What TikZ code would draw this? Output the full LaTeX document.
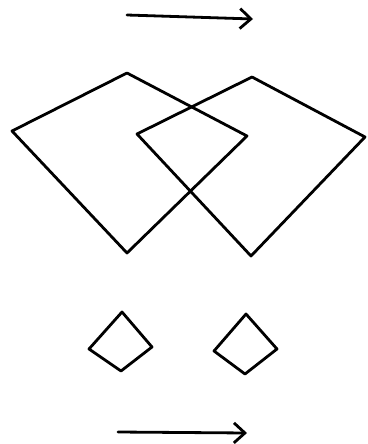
\documentclass[tikz,border=0pt]{standalone}
\usetikzlibrary{arrows.meta}
\begin{document}
\begin{tikzpicture}[x=1pt,y=-1pt,
  ink/.style={line width=2.8pt,line join=round,line cap=round,black},
  motion/.style={ink,-{Straight Barb[length=11pt,width=20pt,line width=2.8pt]}}]
\useasboundingbox (0,0) rectangle (367,444);
% top arrow
\coordinate (a1s) at (127,15);
\coordinate (a1e) at (253,19);
\draw[motion] (a1s) -- (a1e);
% left big quad
\coordinate (Lt) at (127,73);
\coordinate (Ll) at (12,131);
\coordinate (Lb) at (127,253);
\coordinate (Lr) at (247,136);
\draw[ink] (Lt) -- (Ll) -- (Lb) -- (Lr) -- cycle;
% right big quad
\coordinate (Rt) at (252,77);
\coordinate (Rl) at (137,134);
\coordinate (Rb) at (251,256);
\coordinate (Rr) at (365,137);
\draw[ink] (Rt) -- (Rl) -- (Rb) -- (Rr) -- cycle;
% small left diamond
\coordinate (st1) at (122,312);
\coordinate (sl1) at (89,349);
\coordinate (sb1) at (121,371);
\coordinate (sr1) at (152,347);
\draw[ink] (st1) -- (sl1) -- (sb1) -- (sr1) -- cycle;
% small right diamond
\coordinate (st2) at (246,314);
\coordinate (sl2) at (214,351);
\coordinate (sb2) at (245,374);
\coordinate (sr2) at (277,349);
\draw[ink] (st2) -- (sl2) -- (sb2) -- (sr2) -- cycle;
% bottom arrow
\coordinate (a2s) at (118,432);
\coordinate (a2e) at (247,433);
\draw[motion] (a2s) -- (a2e);
\end{tikzpicture}
\end{document}
